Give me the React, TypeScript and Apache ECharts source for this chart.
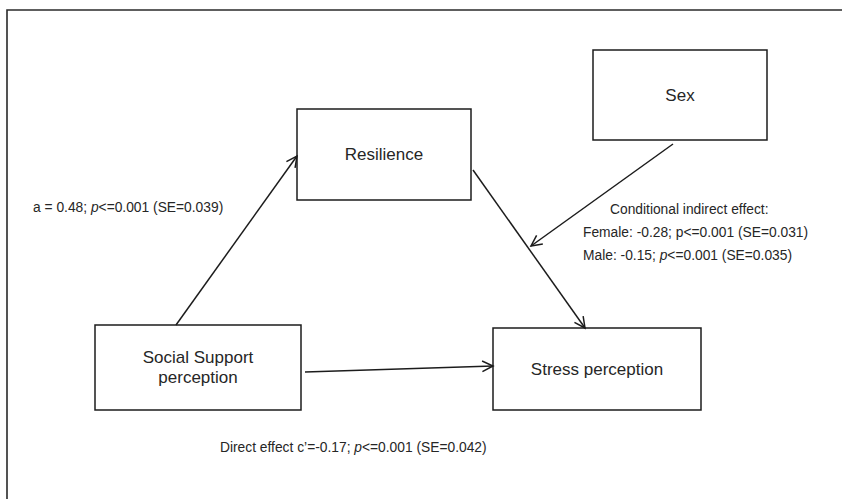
import React, { useEffect, useRef } from "react";
import * as echarts from "echarts";

// ---- Content (texts) ----
const NODE_LABELS: string[] = ["Sex", "Resilience", "Social Support\nperception", "Stress perception"];
const PATH_A_LABEL: string[] = ["a = 0.48; ", "p", "<=0.001 (SE=0.039)"];
const COND_TITLE: string = "Conditional indirect effect:";
const FEMALE_LABEL: string = "Female: -0.28; p<=0.001 (SE=0.031)";
const MALE_LABEL: string[] = ["Male: -0.15; ", "p", "<=0.001 (SE=0.035)"];
const DIRECT_LABEL: string[] = ["Direct effect c\u2019=-0.17; ", "p", "<=0.001 (SE=0.042)"];

// ---- Layout ----
const BOX_LAYOUT = [
  { x: 593, y: 50, w: 174, h: 90 },
  { x: 297, y: 109, w: 174, h: 91 },
  { x: 95, y: 325, w: 206, h: 85 },
  { x: 493, y: 328, w: 208, h: 82 },
];
const ARROW_LAYOUT = [
  { from: [176, 325], to: [297, 156] },
  { from: [473, 170], to: [585, 328] },
  { from: [673, 144], to: [531, 246] },
  { from: [305, 372], to: [493, 366] },
];

const FONT = "'Liberation Sans', Arial, Helvetica, sans-serif";
const INK = "#1c1c1c";
const TXT = "#262626";

function arrowHead(from: number[], to: number[], len = 12, ang = 0.46) {
  const dx = from[0] - to[0];
  const dy = from[1] - to[1];
  const a = Math.atan2(dy, dx);
  return [
    [to[0] + len * Math.cos(a + ang), to[1] + len * Math.sin(a + ang)],
    [to[0], to[1]],
    [to[0] + len * Math.cos(a - ang), to[1] + len * Math.sin(a - ang)],
  ];
}

function richText(parts: string[]) {
  return `${parts[0]}{i|${parts[1]}}${parts[2]}`;
}

export default function App() {
  const ref = useRef<HTMLDivElement>(null);
  useEffect(() => {
    if (!ref.current) return;
    const chart = echarts.init(ref.current, null, { renderer: "svg" });
    const els: any[] = [];
    // outer frame
    els.push({
      type: "rect",
      shape: { x: 7, y: 10, width: 900, height: 600 },
      style: { fill: "none", stroke: "#2a2a2a", lineWidth: 1.6 },
    });
    BOX_LAYOUT.forEach((b, i) => {
      els.push({
        type: "rect",
        shape: { x: b.x, y: b.y, width: b.w, height: b.h },
        style: { fill: "#fff", stroke: INK, lineWidth: 1.5 },
      });
      els.push({
        type: "text",
        x: b.x + b.w / 2,
        y: b.y + b.h / 2,
        style: {
          text: NODE_LABELS[i],
          fontFamily: FONT,
          fontSize: 17,
          lineHeight: 20,
          fill: TXT,
          align: "center",
          verticalAlign: "middle",
        },
      });
    });
    ARROW_LAYOUT.forEach((a) => {
      els.push({
        type: "line",
        shape: { x1: a.from[0], y1: a.from[1], x2: a.to[0], y2: a.to[1] },
        style: { stroke: INK, lineWidth: 1.5 },
      });
      els.push({
        type: "polyline",
        shape: { points: arrowHead(a.from, a.to) },
        style: { stroke: INK, lineWidth: 1.5, fill: "none" },
      });
    });
    const small = { fontFamily: FONT, fontSize: 13.8, fill: TXT, verticalAlign: "middle" as const };
    const rich = { i: { fontStyle: "italic", fontFamily: FONT, fontSize: 13.8, fill: TXT } };
    els.push({ type: "text", x: 33, y: 207, style: { ...small, text: richText(PATH_A_LABEL), rich } });
    els.push({ type: "text", x: 610, y: 209, style: { ...small, text: COND_TITLE } });
    els.push({ type: "text", x: 583, y: 232, style: { ...small, text: FEMALE_LABEL } });
    els.push({ type: "text", x: 583, y: 255, style: { ...small, text: richText(MALE_LABEL), rich } });
    els.push({ type: "text", x: 220, y: 447, style: { ...small, text: richText(DIRECT_LABEL), rich } });

    chart.setOption({ animation: false, backgroundColor: "#fff", graphic: { elements: els } });
    return () => chart.dispose();
  }, []);
  return (
    <div
      ref={ref}
      style={{ position: "fixed", left: 0, top: 0, width: 842, height: 499, background: "#fff" }}
    />
  );
}
